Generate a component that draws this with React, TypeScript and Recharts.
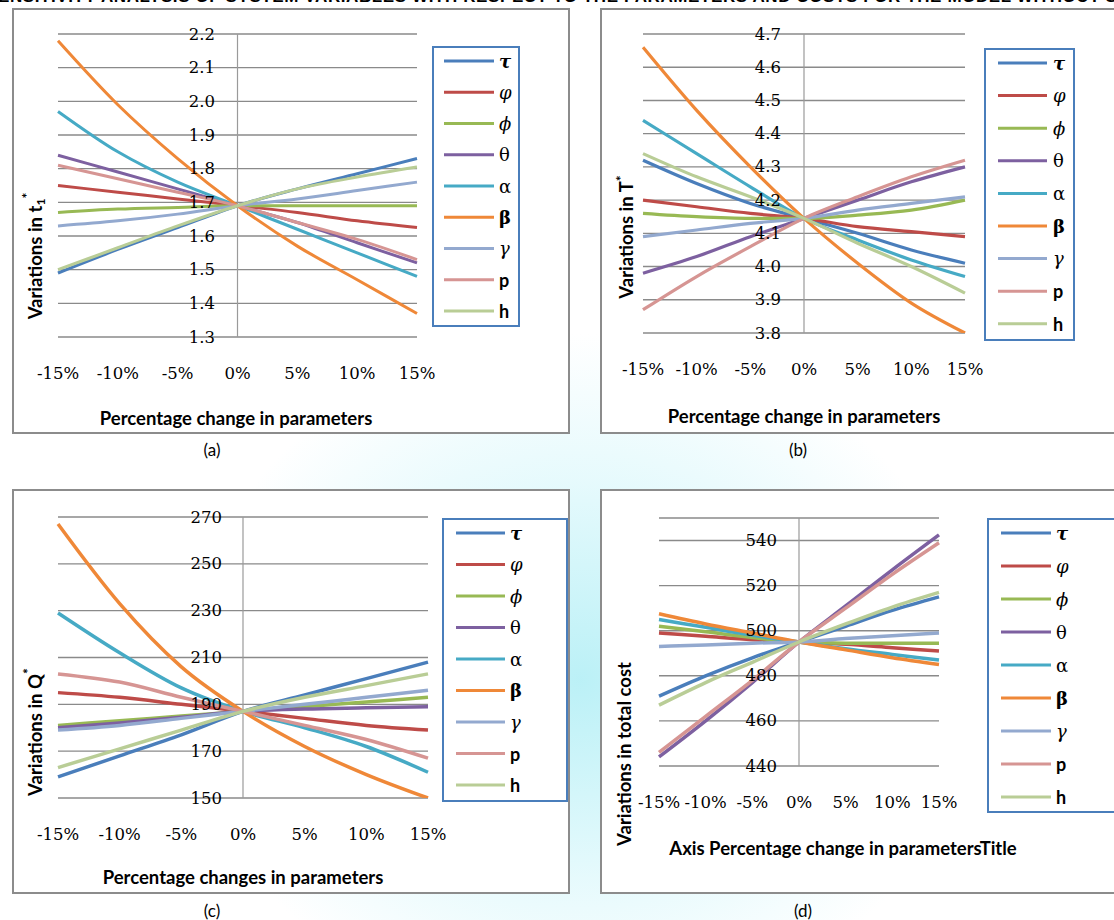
import { LineChart, Line, XAxis, YAxis, CartesianGrid, ReferenceLine, Legend } from 'recharts';

// categories on the x axis
const pct = ['-15%', '-10%', '-5%', '0%', '5%', '10%', '15%'];

const seriesKeys = ['tau', 'phi', 'varphi', 'theta', 'alpha', 'beta', 'gamma', 'p', 'h'];
const seriesLabels = ['τ', 'φ', 'ϕ', 'θ', 'α', 'β', 'γ', 'p', 'h'];
const seriesColors = ['#4a7ebb', '#be4b48', '#98b954', '#7d60a0', '#46aac5', '#ef8838', '#93a9cf', '#d69593', '#b9cd96'];
const labelFamily = ['DejaVu Serif', 'DejaVu Serif', 'DejaVu Serif', 'DejaVu Serif', 'DejaVu Serif', 'DejaVu Serif', 'DejaVu Serif', 'Lato', 'Lato'];
const labelStyle = ['italic', 'italic', 'italic', 'normal', 'normal', 'normal', 'italic', 'normal', 'normal'];
const labelWeight = [700, 400, 400, 400, 400, 700, 400, 700, 700];

// (a) t1*
const t1Series: Record<string, number[]> = {
  tau: [1.49, 1.56, 1.625, 1.69, 1.74, 1.785, 1.83],
  phi: [1.75, 1.73, 1.71, 1.69, 1.67, 1.645, 1.625],
  varphi: [1.67, 1.68, 1.685, 1.69, 1.69, 1.69, 1.69],
  theta: [1.84, 1.79, 1.74, 1.69, 1.64, 1.58, 1.52],
  alpha: [1.97, 1.85, 1.76, 1.69, 1.62, 1.55, 1.48],
  beta: [2.18, 1.99, 1.83, 1.69, 1.57, 1.47, 1.37],
  gamma: [1.63, 1.645, 1.665, 1.69, 1.71, 1.735, 1.76],
  p: [1.81, 1.77, 1.73, 1.69, 1.64, 1.59, 1.53],
  h: [1.5, 1.565, 1.63, 1.69, 1.74, 1.775, 1.805],
};
const t1Ticks = [1.3, 1.4, 1.5, 1.6, 1.7, 1.8, 1.9, 2.0, 2.1, 2.2];

// (b) T*
const bigTSeries: Record<string, number[]> = {
  tau: [4.32, 4.25, 4.19, 4.145, 4.1, 4.05, 4.01],
  phi: [4.2, 4.18, 4.16, 4.145, 4.12, 4.105, 4.09],
  varphi: [4.16, 4.15, 4.145, 4.145, 4.155, 4.17, 4.2],
  theta: [3.98, 4.03, 4.09, 4.145, 4.2, 4.255, 4.3],
  alpha: [4.44, 4.34, 4.24, 4.145, 4.08, 4.02, 3.97],
  beta: [4.66, 4.47, 4.3, 4.145, 4.01, 3.89, 3.8],
  gamma: [4.09, 4.11, 4.13, 4.145, 4.17, 4.19, 4.21],
  p: [3.87, 3.97, 4.06, 4.145, 4.21, 4.27, 4.32],
  h: [4.34, 4.27, 4.21, 4.145, 4.07, 4.0, 3.92],
};
const bigTTicks = [3.8, 3.9, 4.0, 4.1, 4.2, 4.3, 4.4, 4.5, 4.6, 4.7];

// (c) Q*
const qSeries: Record<string, number[]> = {
  tau: [159, 168, 177, 187, 194, 201, 208],
  phi: [195, 193, 190, 187, 184, 181, 179],
  varphi: [181, 183, 185, 187, 189, 191, 193],
  theta: [180, 182, 184.5, 187, 188, 188.5, 189],
  alpha: [229, 212, 197, 187, 180, 172, 161],
  beta: [267, 233, 206, 187, 172, 160, 150],
  gamma: [179, 181, 184, 187, 190, 193, 196],
  p: [203, 199.5, 193, 187, 181, 175, 167],
  h: [163, 171, 179, 187, 193, 198, 203],
};
const qTicks = [150, 170, 190, 210, 230, 250, 270];

// (d) total cost
const costSeries: Record<string, number[]> = {
  tau: [471, 480, 488, 495, 502, 509, 515],
  phi: [499, 497.5, 496, 495, 494, 492.5, 491],
  varphi: [502, 499.5, 497, 495, 494.5, 494.4, 494.4],
  theta: [444, 460, 477, 495, 511, 527, 542.5],
  alpha: [505, 501.5, 498, 495, 492, 489.5, 487],
  beta: [507.5, 503, 499, 495, 491.5, 488, 485],
  gamma: [493, 493.7, 494.5, 495, 496.5, 497.8, 499],
  p: [446, 462, 478, 495, 510, 525, 539],
  h: [467, 477, 486, 495, 503, 510.5, 517],
};
const costTicks = [440, 460, 480, 500, 520, 540];

const tickFont = 'DejaVu Serif';
const titleFont = 'Lato';

function buildRows(series: Record<string, number[]>) {
  return pct.map((c, i) => {
    const row: any = { pct: c };
    seriesKeys.forEach((k) => (row[k] = series[k][i]));
    return row;
  });
}

type Box = { x: number; y: number; w: number; h: number; first: number; step: number; l1: number; l2: number; tx: number };

interface PanelProps {
  left: number;
  top: number;
  width: number;
  height: number;
  series: Record<string, number[]>;
  domain: [number, number];
  ticks: number[];
  decimals: number;
  plot: { left: number; right: number; top: number; bottom: number };
  yTickX: number;
  xTickY: number;
  xTitle: string;
  xTitlePos: [number, number];
  yTitle: any;
  yTitlePos: [number, number];
  legend: Box;
  stroke: number;
}

function Panel(p: PanelProps) {
  const rows = buildRows(p.series);
  const cw = p.width - 4;
  const ch = p.height - 4;
  const lg = p.legend;
  return (
    <div style={{ position: 'absolute', left: p.left, top: p.top, width: p.width, height: p.height, border: '2px solid #8c8c8c', boxSizing: 'border-box', background: '#fff' }}>
      <LineChart width={cw} height={ch} data={rows} margin={{ top: p.plot.top, left: 0, right: cw - p.plot.right, bottom: 0 }}>
        <CartesianGrid vertical={false} stroke="#8a8a8a" strokeWidth={1.4} />
        <XAxis
          dataKey="pct"
          axisLine={false}
          tickLine={false}
          interval={0}
          height={ch - p.plot.bottom}
          tick={(t: any) => (
            <text x={t.x} y={p.xTickY} textAnchor="middle" dominantBaseline="central" fontFamily={tickFont} fontSize={16.5} fill="#000">
              {t.payload.value}
            </text>
          )}
          label={{
            content: () => (
              <text x={p.xTitlePos[0]} y={p.xTitlePos[1]} textAnchor="middle" dominantBaseline="central" fontFamily={titleFont} fontWeight={700} fontSize={18.5} fill="#000">
                {p.xTitle}
              </text>
            ),
          }}
        />
        <YAxis
          type="number"
          width={p.plot.left}
          domain={p.domain}
          ticks={p.ticks}
          allowDataOverflow
          axisLine={false}
          tickLine={false}
          tick={(t: any) => (
            <text x={p.yTickX} y={t.y} textAnchor="end" dominantBaseline="central" fontFamily={tickFont} fontSize={16.5} fill="#000">
              {Number(t.payload.value).toFixed(p.decimals)}
            </text>
          )}
          label={{
            content: () => (
              <text
                x={p.yTitlePos[0]}
                y={p.yTitlePos[1]}
                textAnchor="middle"
                dominantBaseline="central"
                fontFamily={titleFont}
                fontWeight={700}
                fontSize={18.5}
                fill="#000"
                transform={`rotate(-90, ${p.yTitlePos[0]}, ${p.yTitlePos[1]})`}
              >
                {p.yTitle}
              </text>
            ),
          }}
        />
        <ReferenceLine x="0%" stroke="#9a9a9a" strokeWidth={1.2} />
        {seriesKeys.map((k, i) => (
          <Line
            key={k}
            type="monotone"
            dataKey={k}
            name={seriesLabels[i]}
            stroke={seriesColors[i]}
            strokeWidth={p.stroke}
            dot={false}
            activeDot={false}
            isAnimationActive={false}
          />
        ))}
        <Legend
          layout="vertical"
          align="center"
          verticalAlign="middle"
          wrapperStyle={{ left: lg.x, top: lg.y, width: lg.w, height: lg.h }}
          content={(lp: any) => {
            const items = [...(lp.payload || [])].sort(
              (a: any, b: any) => seriesKeys.indexOf(a.dataKey) - seriesKeys.indexOf(b.dataKey)
            );
            return (
              <div style={{ width: lg.w, height: lg.h, border: '2px solid #4a7ebb', boxSizing: 'border-box', background: '#fff' }}>
                <svg width={lg.w - 4} height={lg.h - 4}>
                  {items.map((item: any) => {
                    const i = seriesKeys.indexOf(item.dataKey);
                    const y = lg.first + i * lg.step - 2;
                    return (
                      <g key={item.dataKey}>
                        <line x1={lg.l1} x2={lg.l2} y1={y} y2={y} stroke={item.color} strokeWidth={3} />
                        <text
                          x={lg.tx}
                          y={y}
                          dominantBaseline="central"
                          fontFamily={labelFamily[i]}
                          fontStyle={labelStyle[i]}
                          fontWeight={labelWeight[i]}
                          fontSize={18}
                          fill="#000"
                        >
                          {seriesLabels[i]}
                        </text>
                      </g>
                    );
                  })}
                </svg>
              </div>
            );
          }}
        />
      </LineChart>
    </div>
  );
}

function Caption({ x, y, text }: { x: number; y: number; text: string }) {
  return (
    <div style={{ position: 'absolute', left: x, top: y, transform: 'translate(-50%, -50%)', fontFamily: titleFont, fontSize: 17, color: '#000', whiteSpace: 'nowrap' }}>
      {text}
    </div>
  );
}

export default function App() {
  return (
    <div style={{ position: 'fixed', left: 0, top: 0, width: 1114, height: 920, overflow: 'hidden', background: '#fff' }}>
      <div
        style={{
          position: 'absolute',
          left: 180,
          top: 330,
          width: 800,
          height: 700,
          background: 'radial-gradient(ellipse at center, rgba(175,238,245,0.85) 0%, rgba(205,245,250,0.5) 40%, rgba(255,255,255,0) 70%)',
        }}
      />
      <div
        style={{
          position: 'absolute',
          left: -14,
          top: -13,
          whiteSpace: 'nowrap',
          fontFamily: 'Liberation Sans',
          fontWeight: 700,
          fontSize: 17,
          letterSpacing: 0.6,
          color: '#000',
        }}
      >
        SENSITIVITY ANALYSIS OF SYSTEM VARIABLES WITH RESPECT TO THE PARAMETERS AND COSTS FOR THE MODEL WITHOUT SHORTAGES
      </div>

      <Panel
        left={12}
        top={8}
        width={558}
        height={426}
        series={t1Series}
        domain={[1.3, 2.2]}
        ticks={t1Ticks}
        decimals={1}
        plot={{ left: 44, right: 403, top: 24, bottom: 327 }}
        yTickX={201}
        xTickY={363}
        xTitle="Percentage change in parameters"
        xTitlePos={[222, 408]}
        yTitle={
          <>
            Variations in t<tspan fontSize={12} dy={5}>1</tspan>
            <tspan fontSize={14} dy={-14}>*</tspan>
          </>
        }
        yTitlePos={[21, 246]}
        legend={{ x: 418, y: 36, w: 88, h: 281, first: 15, step: 31.25, l1: 10, l2: 60, tx: 65 }}
        stroke={3}
      />
      <Panel
        left={600}
        top={8}
        width={540}
        height={426}
        series={bigTSeries}
        domain={[3.8, 4.7]}
        ticks={bigTTicks}
        decimals={1}
        plot={{ left: 41, right: 363, top: 24, bottom: 323 }}
        yTickX={179}
        xTickY={359}
        xTitle="Percentage change in parameters"
        xTitlePos={[202, 406]}
        yTitle={
          <>
            Variations in T<tspan fontSize={14} dy={-6}>*</tspan>
          </>
        }
        yTitlePos={[24, 227]}
        legend={{ x: 382, y: 38, w: 91, h: 293, first: 15, step: 32.6, l1: 12, l2: 61, tx: 67 }}
        stroke={3.2}
      />
      <Panel
        left={12}
        top={489}
        width={558}
        height={405}
        series={qSeries}
        domain={[150, 270]}
        ticks={qTicks}
        decimals={0}
        plot={{ left: 44, right: 414, top: 26, bottom: 307 }}
        yTickX={208}
        xTickY={343}
        xTitle="Percentage changes in parameters"
        xTitlePos={[229, 386]}
        yTitle={
          <>
            Variations in Q<tspan fontSize={14} dy={-8}>*</tspan>
          </>
        }
        yTitlePos={[21, 241]}
        legend={{ x: 428, y: 27, w: 126, h: 284, first: 15, step: 31.5, l1: 12, l2: 61, tx: 66 }}
        stroke={3.5}
      />
      <Panel
        left={600}
        top={489}
        width={540}
        height={405}
        series={costSeries}
        domain={[440, 550]}
        ticks={costTicks}
        decimals={0}
        plot={{ left: 57, right: 337, top: 27, bottom: 275 }}
        yTickX={175}
        xTickY={311}
        xTitle="Axis Percentage change in parametersTitle"
        xTitlePos={[241, 357]}
        yTitle="Variations in total cost"
        yTitlePos={[22, 263]}
        legend={{ x: 385, y: 27, w: 150, h: 295, first: 15, step: 33, l1: 12, l2: 62, tx: 67 }}
        stroke={3.5}
      />

      <Caption x={212} y={449} text="(a)" />
      <Caption x={798} y={449} text="(b)" />
      <Caption x={212} y={910} text="(c)" />
      <Caption x={803} y={910} text="(d)" />
    </div>
  );
}
